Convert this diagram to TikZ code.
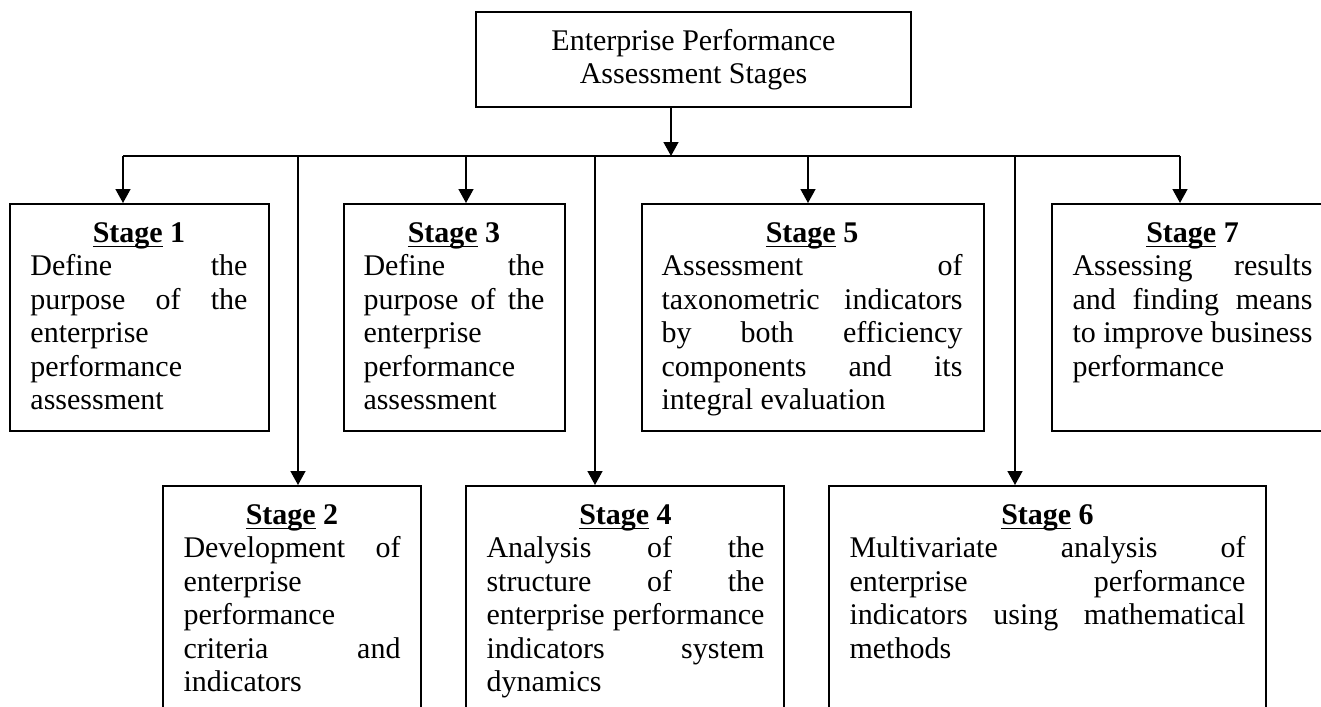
\documentclass[tikz,border=0pt]{standalone}
\usepackage{fontspec}
\setmainfont{Liberation Serif}
\usetikzlibrary{arrows.meta}
\newcommand\jline[1]{\makebox[\linewidth][s]{#1}\par}
\newcommand\ulx[1]{\setbox0\hbox{#1}\rlap{\rule[-2.1pt]{\wd0}{0.6pt}}\box0\relax}
\newcommand\stitle[1]{{\centering\textbf{\ulx{Stage}\ #1}\par}}
\newcommand\pxw[1]{\dimexpr0.4pt*#1\relax}
\tikzset{
  box/.style={draw, line width=0.7pt, rectangle, inner sep=0pt, anchor=north west},
  txt/.style={anchor=base west, inner sep=0pt, font=\fontsize{12pt}{13.4pt}\selectfont},
  arr/.style={-{Triangle[length=5.6pt,width=6pt]}, line width=0.6pt},
  busline/.style={line width=0.6pt}
}
\begin{document}
\begin{tikzpicture}[x=0.4pt, y=-0.4pt]
\useasboundingbox (0,0) rectangle (1321,707);
\clip (0,0) rectangle (1321,707);
% top box
\node[draw, line width=0.7pt, minimum width=435*0.4pt, minimum height=95*0.4pt,
      align=center, inner sep=0pt, font=\fontsize{12pt}{13.4pt}\selectfont]
      (top) at (693.5,59.5) {Enterprise Performance\\Assessment Stages};
% stage boxes
\node[box, minimum width=259*0.4pt, minimum height=227*0.4pt] (s1) at (9,203) {};
\node[box, minimum width=221*0.4pt, minimum height=227*0.4pt] (s3) at (343,203) {};
\node[box, minimum width=342*0.4pt, minimum height=227*0.4pt] (s5) at (641,203) {};
\node[box, minimum width=300*0.4pt, minimum height=227*0.4pt] (s7) at (1051,203) {};
\node[box, minimum width=258*0.4pt, minimum height=260*0.4pt] (s2) at (162,485) {};
\node[box, minimum width=318*0.4pt, minimum height=260*0.4pt] (s4) at (465,485) {};
\node[box, minimum width=437*0.4pt, minimum height=260*0.4pt] (s6) at (828,485) {};
% texts
\node[txt] (t1) at (30,242) {\parbox[t]{\pxw{217}}{\stitle{1}\jline{Define the}\jline{purpose of the}enterprise\par performance\par assessment\par}};
\node[txt] (t3) at (363,242) {\parbox[t]{\pxw{181}}{\stitle{3}\jline{Define the}\jline{purpose of the}enterprise\par performance\par assessment\par}};
\node[txt] (t5) at (661,242) {\parbox[t]{\pxw{301}}{\stitle{5}\jline{Assessment of}\jline{taxonometric indicators}\jline{by both efficiency}\jline{components and its}integral evaluation\par}};
\node[txt] (t7) at (1072,242) {\parbox[t]{\pxw{240}}{\stitle{7}\jline{Assessing results}\jline{and finding means}\jline{to improve business}performance\par}};
\node[txt] (t2) at (183,524) {\parbox[t]{\pxw{217}}{\stitle{2}\jline{Development of}enterprise\par performance\par\jline{criteria and}indicators\par}};
\node[txt] (t4) at (486,524) {\parbox[t]{\pxw{278}}{\stitle{4}\jline{Analysis of the}\jline{structure of the}\jline{enterprise performance}\jline{indicators system}dynamics\par}};
\node[txt] (t6) at (849,524) {\parbox[t]{\pxw{396}}{\stitle{6}\jline{Multivariate analysis of}\jline{enterprise performance}\jline{indicators using mathematical}methods\par}};
% bus
\coordinate (bus) at (671,156);
\coordinate (b1) at (123,156);
\coordinate (b2) at (298,156);
\coordinate (b3) at (466,156);
\coordinate (b4) at (595,156);
\coordinate (b5) at (808,156);
\coordinate (b6) at (1015,156);
\coordinate (b7) at (1180,156);
\draw[arr] (bus |- top.south) -- (bus);
\draw[busline] (b1) -- (b7);
\draw[arr] (b1) -- (b1 |- s1.north);
\draw[arr] (b2) -- (b2 |- s2.north);
\draw[arr] (b3) -- (b3 |- s3.north);
\draw[arr] (b4) -- (b4 |- s4.north);
\draw[arr] (b5) -- (b5 |- s5.north);
\draw[arr] (b6) -- (b6 |- s6.north);
\draw[arr] (b7) -- (b7 |- s7.north);
\end{tikzpicture}
\end{document}
